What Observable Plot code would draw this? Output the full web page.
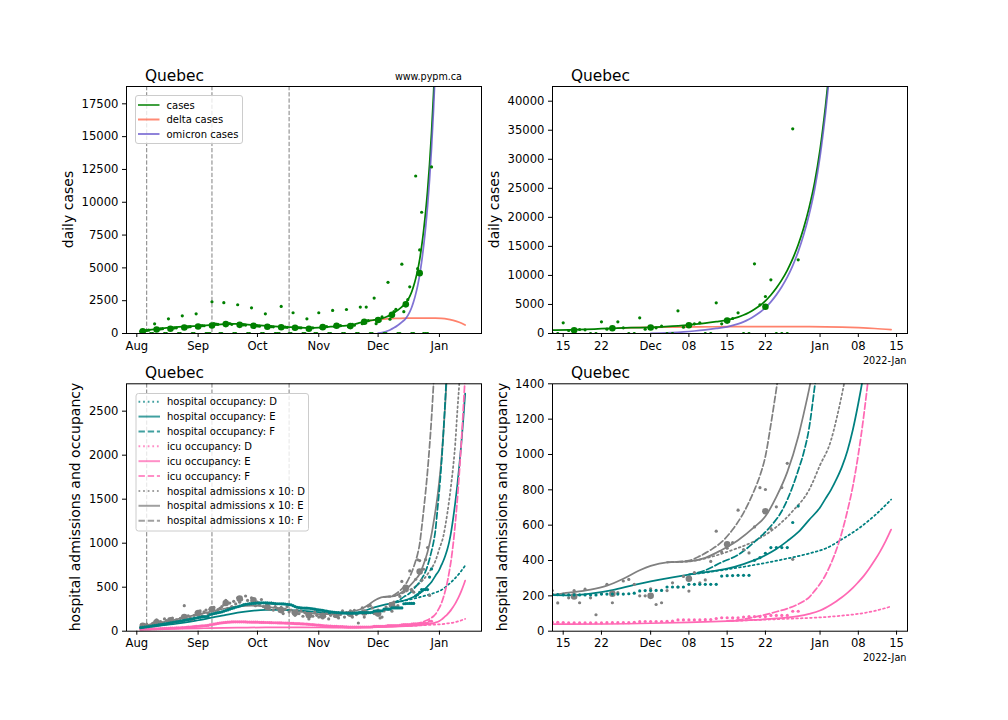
<!DOCTYPE html>
<html><head><meta charset="utf-8"><title>Quebec</title>
<script src="https://cdn.jsdelivr.net/npm/d3@7"></script>
<script src="https://cdn.jsdelivr.net/npm/@observablehq/plot@0.6"></script>
<style>
html,body{margin:0;padding:0;background:#fff;}
#wrap{position:relative;width:1008px;height:720px;overflow:hidden;background:#fff;}
#wrap svg{position:absolute;left:0;top:0;}
</style></head><body><div id="wrap"></div>
<script>
// ---------------- tick labels / categories ----------------
const monthTickDates = ["2021-08-01","2021-09-01","2021-10-01","2021-11-01","2021-12-01","2022-01-01"];
const monthTickLabels = ["Aug","Sep","Oct","Nov","Dec","Jan"];
const zoomTickDates = ["2021-11-15","2021-11-22","2021-12-01","2021-12-08","2021-12-15","2021-12-22","2022-01-01","2022-01-08","2022-01-15"];
const zoomTickLabels = ["15","22","Dec","08","15","22","Jan","08","15"];
const casesTicksFull = [0,2500,5000,7500,10000,12500,15000,17500];
const casesTicksZoom = [0,5000,10000,15000,20000,25000,30000,35000,40000];
const hospTicksFull = [0,500,1000,1500,2000,2500];
const hospTicksZoom = [0,200,400,600,800,1000,1200,1400];
const breakDates = ["2021-08-06","2021-09-08","2021-10-17"];
const caseLegend = ["cases","delta cases","omicron cases"];
const hospLegend = ["hospital occupancy: D","hospital occupancy: E","hospital occupancy: F",
  "icu occupancy: D","icu occupancy: E","icu occupancy: F",
  "hospital admissions x 10: D","hospital admissions x 10: E","hospital admissions x 10: F"];

// ---------------- daily case reports (from 2021-08-03, Tue..Mon rows) ----------------
const casesStart = "2021-08-03";
const casesDaily = [
 160,190,200,230,250,0,0,
 740,320,330,350,370,0,0,
 1120,380,400,420,430,0,0,
 1350,460,480,500,520,0,0,
 1500,560,580,600,590,0,0,
 0,2420,760,720,700,0,0,
 2345,720,740,760,700,0,0,
 2190,680,690,660,640,0,0,
 1960,600,620,580,560,0,0,
 1500,540,560,520,510,0,0,
 0,2060,500,480,470,0,0,
 1580,460,450,440,430,0,0,
 1120,420,410,430,0,0,1580,
 450,480,500,520,0,0,1760,
 540,570,580,600,0,0,1830,
 517,560,690,630,0,0,2010,
 750,800,2010,975,0,0,2700,
 750,1000,975,1260,0,0,3900,
 1090,1300,1660,1840,0,0,5280,
 1660,2200,2580,3560,0,0,12000,
 4940,6370,9240,0,0,0,35240,
 12690];
const weekDates = ["2021-08-04","2021-08-11","2021-08-18","2021-08-25","2021-09-01","2021-09-08","2021-09-15",
 "2021-09-22","2021-09-29","2021-10-06","2021-10-13","2021-10-20","2021-10-27","2021-11-03","2021-11-10",
 "2021-11-17","2021-11-24","2021-12-01","2021-12-08","2021-12-15","2021-12-22"];
const casesWeekAvg = [175,305,360,460,535,610,715,660,585,510,480,435,360,485,585,565,900,1030,1420,2220,4600];

// ---------------- case model curves ----------------
const casesModel = [["2021-08-03",180],["2021-08-07",280],["2021-08-12",360],["2021-08-19",460],["2021-08-26",535],
 ["2021-09-02",590],["2021-09-09",660],["2021-09-16",725],["2021-09-20",740],["2021-09-25",700],["2021-09-30",630],
 ["2021-10-07",565],["2021-10-14",510],["2021-10-21",465],["2021-10-27",435],["2021-11-01",455],["2021-11-07",515],
 ["2021-11-13",575],["2021-11-16",620],["2021-11-19",700],["2021-11-22",830],["2021-11-25",940],["2021-11-28",1010],
 ["2021-12-01",1070],["2021-12-03",1150],["2021-12-05",1260],["2021-12-07",1400],["2021-12-09",1580],["2021-12-11",1780],
 ["2021-12-13",2030],["2021-12-15",2320],["2021-12-17",2830],["2021-12-18",3180],["2021-12-19",3630],["2021-12-20",4180],
 ["2021-12-21",4830],["2021-12-22",5630],["2021-12-23",6630],["2021-12-24",7830],["2021-12-25",9230],["2021-12-26",10880],
 ["2021-12-27",12880],["2021-12-28",15280],["2021-12-29",18170],["2021-12-30",21670],["2021-12-31",25970],
 ["2022-01-01",31670],["2022-01-02",39150],["2022-01-03",48150]];
const deltaModel = [["2021-11-25",930],["2021-11-28",1000],["2021-12-01",1050],["2021-12-05",1110],["2021-12-10",1150],
 ["2021-12-15",1170],["2021-12-20",1180],["2021-12-25",1180],["2021-12-30",1170],["2022-01-02",1150],["2022-01-05",1100],
 ["2022-01-08",1000],["2022-01-11",860],["2022-01-14",650]];
const omicronModel = [["2021-12-01",25],["2021-12-03",70],["2021-12-05",150],["2021-12-07",270],["2021-12-09",430],
 ["2021-12-11",630],["2021-12-13",870],["2021-12-15",1150],["2021-12-17",1650],["2021-12-18",2000],["2021-12-19",2450],
 ["2021-12-20",3000],["2021-12-21",3650],["2021-12-22",4450],["2021-12-23",5450],["2021-12-24",6650],["2021-12-25",8050],
 ["2021-12-26",9700],["2021-12-27",11700],["2021-12-28",14100],["2021-12-29",17000],["2021-12-30",20500],
 ["2021-12-31",24800],["2022-01-01",30500],["2022-01-02",38000],["2022-01-03",47000]];

// ---------------- hospital data (daily from 2021-08-03) ----------------
const hospStart = "2021-08-03";
const hospOccDaily = [
 40,43,47,50,53,56,60,
 63,67,71,75,79,83,86,
 90,94,98,102,106,110,114,
 118,122,127,131,135,140,145,
 150,155,158,162,165,167,168,
 190,195,200,205,210,215,220,
 228,235,242,250,258,265,272,
 278,285,292,300,305,308,311,
 314,316,318,320,321,322,322,
 322,321,320,318,316,314,312,
 312,311,310,308,306,303,300,
 290,280,272,268,265,263,262,
 262,261,258,255,250,246,242,
 240,236,232,228,224,220,216,
 214,212,210,209,208,207,206,
 205,205,205,205,205,205,210,
 210,210,210,210,212,215,228,
 230,230,231,231,250,250,250,
 250,265,265,265,265,265,265,
 312,314,315,316,316,316];
const hospOcc2Start = "2021-12-20";
const hospOcc2Daily = [401,416,441,473,473,473,473,615,708];
const icuDaily = [
 20,21,22,22,23,24,25,
 26,27,28,29,30,31,32,
 33,34,35,36,37,38,39,
 40,42,44,46,48,50,52,
 54,56,58,60,62,64,66,
 72,76,80,84,88,92,95,
 98,100,102,104,105,106,106,
 107,107,106,106,105,104,104,
 103,103,102,102,101,100,100,
 99,99,98,97,96,96,95,
 94,94,93,92,91,90,89,
 88,87,86,85,84,83,82,
 80,78,76,74,72,70,68,
 66,64,62,60,58,57,56,
 55,54,53,52,51,50,49,
 47,47,47,47,47,47,47,
 48,48,48,48,48,50,54,
 55,55,55,55,56,57,64,
 64,64,64,64,65,66,72,
 76,76,76,76,80,83,83,
 83,83,89,89,89,89,113,
 113];
const admDaily = [
 40,60,55,80,45,70,90,
 100,130,85,110,95,140,120,
 105,120,150,100,130,115,145,
 160,290,140,175,150,130,180,
 210,190,230,175,220,240,200,
 250,230,270,210,245,260,280,
 300,350,260,320,280,340,310,
 380,330,360,300,400,350,310,
 380,340,290,330,300,360,280,
 270,300,250,320,240,280,260,
 230,270,200,250,280,220,240,
 210,180,240,200,230,170,210,
 190,140,200,170,220,180,160,
 190,150,170,210,140,180,200,
 170,200,150,190,230,160,210,
 189,230,161,238,189,93,212,
 265,161,218,284,293,265,200,
 200,240,151,161,230,274,250,
 310,227,331,274,290,395,566,
 448,470,501,685,462,443,590,
 812,802,581,704,813,950,407];
const admWeekAvg = [60,100,125,160,205,250,320,370,350,275,240,210,180,175,185,197,212,200,297,492,679];

// ---------------- hospital model curves ----------------
const hospOccD = [["2021-12-08",320],["2021-12-12",336],["2021-12-15",350],["2021-12-20",375],["2021-12-25",405],
 ["2021-12-30",440],["2022-01-02",468],["2022-01-05",520],["2022-01-08",580],["2022-01-11",655],["2022-01-14",745]];
const hospOccE = [["2021-08-03",38],["2021-08-10",55],["2021-08-17",75],["2021-08-24",95],["2021-08-31",120],
 ["2021-09-06",145],["2021-09-08",155],["2021-09-14",180],["2021-09-21",210],["2021-09-28",232],["2021-10-05",243],
 ["2021-10-12",243],["2021-10-19",238],["2021-10-26",228],["2021-11-02",215],["2021-11-09",205],["2021-11-16",203],
 ["2021-11-20",212],["2021-11-24",232],["2021-11-28",262],["2021-12-01",282],["2021-12-05",305],["2021-12-08",320],
 ["2021-12-12",338],["2021-12-15",354],["2021-12-18",380],["2021-12-20",402],["2021-12-22",430],["2021-12-24",465],
 ["2021-12-26",510],["2021-12-28",560],["2021-12-30",630],["2022-01-01",700],["2022-01-02",750],["2022-01-03",800],
 ["2022-01-04",860],["2022-01-05",930],["2022-01-06",1020],["2022-01-07",1140],["2022-01-08",1290],["2022-01-09",1460],
 ["2022-01-10",1650],["2022-01-11",1870],["2022-01-12",2110],["2022-01-13",2390],["2022-01-14",2700]];
const hospOccF = [["2021-12-08",320],["2021-12-11",345],["2021-12-14",390],["2021-12-17",432],["2021-12-20",505],
 ["2021-12-23",595],["2021-12-25",680],["2021-12-27",820],["2021-12-28",910],["2021-12-29",1010],["2021-12-30",1150],
 ["2021-12-31",1380],["2022-01-01",1620],["2022-01-02",1900],["2022-01-03",2250],["2022-01-04",2650],["2022-01-05",3100]];
const icuD = [["2021-12-15",57],["2021-12-20",63],["2021-12-25",69],["2021-12-30",75],["2022-01-02",80],["2022-01-05",88],
 ["2022-01-08",98],["2022-01-11",115],["2022-01-14",140]];
const icuE = [["2021-08-03",22],["2021-08-17",27],["2021-09-01",32],["2021-09-07",35],["2021-09-21",40],["2021-10-05",43],
 ["2021-10-19",44],["2021-11-02",42],["2021-11-16",40],["2021-12-01",45],["2021-12-08",50],["2021-12-15",57],
 ["2021-12-20",64],["2021-12-24",72],["2021-12-28",85],["2021-12-30",98],["2022-01-01",117],["2022-01-02",132],
 ["2022-01-03",150],["2022-01-04",170],["2022-01-05",192],["2022-01-06",217],["2022-01-07",245],["2022-01-08",278],
 ["2022-01-09",313],["2022-01-10",355],["2022-01-11",401],["2022-01-12",452],["2022-01-13",510],["2022-01-14",575]];
const icuF = [["2021-12-15",58],["2021-12-18",68],["2021-12-20",80],["2021-12-22",94],["2021-12-24",110],["2021-12-26",128],
 ["2021-12-28",153],["2021-12-29",170],["2021-12-30",192],["2021-12-31",228],["2022-01-01",268],["2022-01-02",318],
 ["2022-01-03",383],["2022-01-04",462],["2022-01-05",560],["2022-01-06",680],["2022-01-07",820],["2022-01-08",1000],
 ["2022-01-09",1220],["2022-01-10",1480],["2022-01-11",1780],["2022-01-12",2120],["2022-01-13",2500],["2022-01-14",2900]];
const admD = [["2021-12-04",390],["2021-12-08",395],["2021-12-12",420],["2021-12-16",460],["2021-12-20",510],
 ["2021-12-24",590],["2021-12-27",680],["2021-12-30",800],["2022-01-01",940],["2022-01-03",1080],["2022-01-04",1200],
 ["2022-01-05",1340],["2022-01-06",1500],["2022-01-07",1680],["2022-01-08",1880],["2022-01-09",2130],["2022-01-10",2480],
 ["2022-01-11",2800],["2022-01-12",3150]];
const admE = [["2021-08-03",55],["2021-08-10",85],["2021-08-17",115],["2021-08-24",150],["2021-08-31",185],
 ["2021-09-07",220],["2021-09-14",255],["2021-09-21",280],["2021-09-28",290],["2021-10-05",280],["2021-10-12",260],
 ["2021-10-19",235],["2021-10-26",213],["2021-11-02",195],["2021-11-09",197],["2021-11-16",218],["2021-11-20",235],
 ["2021-11-23",258],["2021-11-26",297],["2021-11-29",345],["2021-12-01",370],["2021-12-04",390],["2021-12-08",395],
 ["2021-12-11",415],["2021-12-14",460],["2021-12-17",515],["2021-12-20",590],["2021-12-22",650],["2021-12-24",760],
 ["2021-12-26",900],["2021-12-28",1100],["2021-12-29",1230],["2021-12-30",1370],["2021-12-31",1530],["2022-01-01",1720],
 ["2022-01-02",1950],["2022-01-03",2250],["2022-01-04",2600],["2022-01-05",3000]];
const admF = [["2021-12-04",390],["2021-12-08",400],["2021-12-10",425],["2021-12-12",460],["2021-12-14",505],
 ["2021-12-16",575],["2021-12-18",670],["2021-12-20",800],["2021-12-21",880],["2021-12-22",990],["2021-12-23",1170],
 ["2021-12-24",1370],["2021-12-25",1580],["2021-12-26",1820],["2021-12-27",2100],["2021-12-28",2420],["2021-12-29",2800],
 ["2021-12-30",3200]];

// ---------------- helpers ----------------
const P = s => new Date(s + "T00:00:00Z");
const DAY = 864e5;
const daily = (start, vals) => vals.map((v, i) => ({date: new Date(P(start).getTime() + i * DAY), value: v}));
const pts = arr => arr.map(([d, v]) => ({date: P(d), value: v}));
const paired = (dates, vals) => dates.map((d, i) => ({date: P(d), value: vals[i]}));
const fmtMap = (dates, labels) => { const m = new Map(dates.map((d, i) => [P(d).getTime(), labels[i]])); return d => m.get(+d) ?? ""; };

const C = {cases: "#008000", delta: "tomato", omicron: "slateblue", teal: "teal", pink: "hotpink", grey: "grey"};
const LW = 1.74, DOTS = "1.74,2.87", DASH = "6.4,2.8";
const RS = 1.6, RB = 3.3;
const domFull = [new Date("2021-07-26T19:00:00Z"), new Date("2022-01-22T06:30:00Z")];
const domZoom = [new Date("2021-11-13T01:00:00Z"), new Date("2022-01-17T00:00:00Z")];
const wrap = document.getElementById("wrap");

function make(box, xdom, xt, xl, ydom, yt, marks) {
  const svg = Plot.plot({
    width: 1008, height: 720,
    marginLeft: box[0], marginRight: 1008 - box[1], marginTop: box[2], marginBottom: 720 - box[3],
    style: {background: "transparent", fontFamily: "'DejaVu Sans', sans-serif", fontSize: "11.6px", color: "#000", overflow: "visible"},
    x: {type: "utc", domain: xdom, ticks: xt.map(P), tickFormat: fmtMap(xt, xl), tickSize: 4, tickPadding: 4, label: null},
    y: {domain: ydom, ticks: yt, tickFormat: d => String(d), tickSize: 4, tickPadding: 4, label: null},
    marks: [...marks, Plot.frame({stroke: "#000", strokeWidth: 1})]
  });
  wrap.appendChild(svg);
}

const ln = (arr, stroke, dash, op = 1) => Plot.line(pts(arr), {x: "date", y: "value", stroke, strokeWidth: LW,
  strokeDasharray: dash, strokeOpacity: op, curve: "monotone-x", clip: true});
const rules = () => Plot.ruleX(breakDates.map(P), {stroke: "grey", strokeWidth: 1, strokeDasharray: "4.3,1.9"});

const caseMarks = () => [
  ln(deltaModel, C.delta, null, 0.8),
  ln(casesModel, C.cases, null),
  ln(omicronModel, C.omicron, null, 0.85),
  Plot.dot(daily(casesStart, casesDaily), {x: "date", y: "value", r: RS, fill: C.cases, clip: true}),
  Plot.dot(paired(weekDates, casesWeekAvg), {x: "date", y: "value", r: RB, fill: C.cases, clip: true})
];
const hospMarks = () => [
  ln(admD, C.grey, DOTS), ln(admE, C.grey, null), ln(admF, C.grey, DASH),
  ln(hospOccD, C.teal, DOTS), ln(hospOccE, C.teal, null), ln(hospOccF, C.teal, DASH),
  ln(icuD, C.pink, DOTS), ln(icuE, C.pink, null), ln(icuF, C.pink, DASH),
  Plot.dot(daily(hospStart, admDaily), {x: "date", y: "value", r: RS, fill: C.grey, clip: true}),
  Plot.dot(paired(weekDates, admWeekAvg), {x: "date", y: "value", r: RB, fill: C.grey, clip: true}),
  Plot.dot(daily(hospStart, icuDaily), {x: "date", y: "value", r: RS, fill: C.pink, clip: true}),
  Plot.dot(daily(hospStart, hospOccDaily), {x: "date", y: "value", r: RS, fill: C.teal, clip: true}),
  Plot.dot(daily(hospOcc2Start, hospOcc2Daily), {x: "date", y: "value", r: RS, fill: C.teal, clip: true})
];

make([126, 481, 86, 333], domFull, monthTickDates, monthTickLabels, [0, 18820], casesTicksFull, [rules(), ...caseMarks()]);
make([552, 907, 86, 333], domZoom, zoomTickDates, zoomTickLabels, [0, 42530], casesTicksZoom, caseMarks());
make([126, 481, 383.3, 630.7], domFull, monthTickDates, monthTickLabels, [0, 2811], hospTicksFull, [rules(), ...hospMarks()]);
make([552, 907, 383.3, 630.7], domZoom, zoomTickDates, zoomTickLabels, [0, 1400], hospTicksZoom, hospMarks());

// ---------------- text & legends overlay ----------------
const ov = d3.select(wrap).append("svg").attr("width", 1008).attr("height", 720)
  .attr("font-family", "'DejaVu Sans', sans-serif").attr("fill", "#000");
function txt(x, y, s, size, anchor = "start", rot = 0) {
  const t = ov.append("text").attr("font-size", size).attr("text-anchor", anchor).text(s);
  if (rot) t.attr("transform", `translate(${x},${y}) rotate(${rot})`); else t.attr("x", x).attr("y", y);
  return t;
}
txt(145, 80.5, "Quebec", 15.4); txt(571, 80.5, "Quebec", 15.4);
txt(145, 377.5, "Quebec", 15.4); txt(571, 377.5, "Quebec", 15.4);
txt(462, 80, "www.pypm.ca", 9.6, "end");
txt(73.1, 209.5, "daily cases", 14, "middle", -90);
txt(499.4, 209.5, "daily cases", 14, "middle", -90);
txt(80.4, 507, "hospital admissions and occupancy", 14, "middle", -90);
txt(506.5, 507, "hospital admissions and occupancy", 14, "middle", -90);
txt(906.5, 364, "2022-Jan", 9.7, "end");
txt(906.5, 660.5, "2022-Jan", 9.7, "end");

function legend(x0, y0, w, h, labels, colors, dashes, cy0, step) {
  ov.append("rect").attr("x", x0).attr("y", y0).attr("width", w).attr("height", h).attr("rx", 2.5)
    .attr("fill", "white").attr("fill-opacity", 0.8).attr("stroke", "#cccccc").attr("stroke-width", 1);
  labels.forEach((lab, i) => {
    const cy = cy0 + i * step;
    ov.append("line").attr("x1", x0 + 2.5).attr("x2", x0 + 24).attr("y1", cy).attr("y2", cy)
      .attr("stroke", colors[i]).attr("stroke-opacity", 0.75).attr("stroke-width", 2)
      .attr("stroke-dasharray", dashes[i]);
    ov.append("text").attr("x", x0 + 31).attr("y", cy + 3.6).attr("font-size", 10).text(lab);
  });
}
legend(135.5, 95.5, 107, 48, caseLegend, [C.cases, C.delta, C.omicron], [null, null, null], 105, 14.5);
legend(136, 393.5, 172.5, 137.5, hospLegend,
  [C.teal, C.teal, C.teal, C.pink, C.pink, C.pink, C.grey, C.grey, C.grey],
  [DOTS, null, DASH, DOTS, null, DASH, DOTS, null, DASH], 401.7, 14.87);
</script></body></html>
